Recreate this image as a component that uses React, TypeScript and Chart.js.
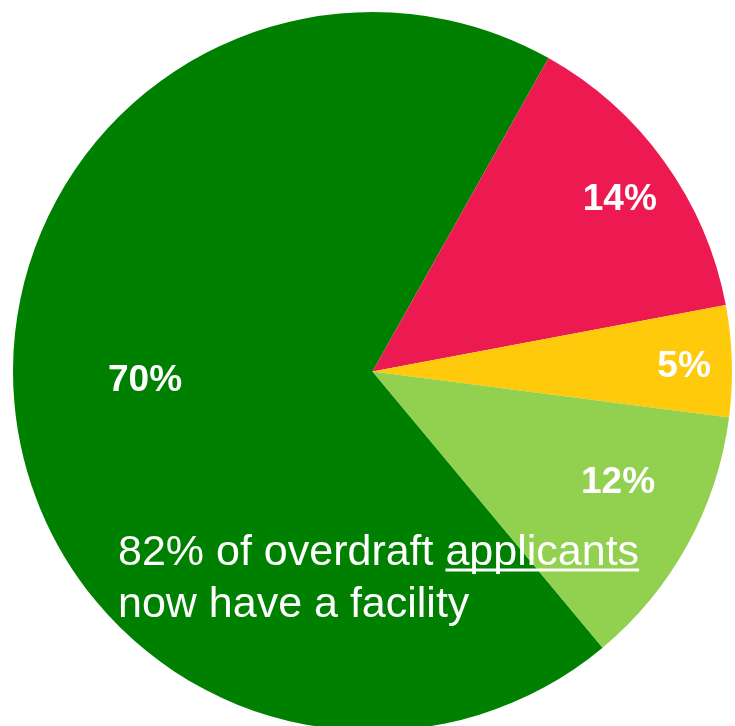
import React, { useEffect, useRef } from "react";
import { Chart, registerables } from "chart.js";

Chart.register(...registerables);

const categories = ["Has facility (applied)", "Declined", "Pending", "Other facility"];
const shares = [69.2, 13.9, 5.0, 11.9];
const shareLabels = ["70%", "14%", "5%", "12%"];
const sliceColors = ["#008000", "#EC1A51", "#FFC90C", "#92D050"];
const noteLine1 = "82% of overdraft ";
const noteUnderlined = "applicants";
const noteLine2 = "now have a facility";

// label placement: fraction of radius, angle offset in degrees
const labelPlacement = [
  { r: 0.633, da: 3.66 },
  { r: 0.843, da: 0.35 },
  { r: 0.867, da: 0.15 },
  { r: 0.747, da: -4.9 },
];

const labelPlugin = {
  id: "pieLabels",
  afterDatasetsDraw(chart: any) {
    const ctx = chart.ctx;
    const meta = chart.getDatasetMeta(0);
    ctx.save();
    ctx.fillStyle = "#ffffff";
    const size = 37;
    ctx.font = `bold ${size}px "Liberation Sans", Arial, sans-serif`;
    ctx.textAlign = "center";
    ctx.textBaseline = "alphabetic";
    meta.data.forEach((arc: any, i: number) => {
      const p = arc.getProps(["x", "y", "startAngle", "endAngle", "outerRadius"], true);
      const pl = labelPlacement[i];
      const a = (p.startAngle + p.endAngle) / 2 + (pl.da * Math.PI) / 180;
      const r = p.outerRadius * pl.r;
      const x = p.x + Math.cos(a) * r;
      const y = p.y + Math.sin(a) * r;
      ctx.fillText(shareLabels[i], x, y + size * 0.358);
    });

    // annotation
    const fs = 43;
    ctx.font = `${fs}px "Liberation Sans", Arial, sans-serif`;
    ctx.textAlign = "left";
    const x0 = 118;
    const y1 = 564.5;
    const y2 = 616.5;
    ctx.fillText(noteLine1, x0, y1);
    const w1 = ctx.measureText(noteLine1).width;
    ctx.fillText(noteUnderlined, x0 + w1, y1);
    const wu = ctx.measureText(noteUnderlined).width;
    ctx.fillRect(x0 + w1, y1 + 4, wu, 3);
    ctx.fillText(noteLine2, x0, y2);
    ctx.restore();
  },
};

export default function App() {
  const ref = useRef<HTMLCanvasElement>(null);
  useEffect(() => {
    document.body.style.margin = "0";
    const chart = new Chart(ref.current!, {
      type: "pie",
      data: {
        labels: categories,
        datasets: [
          {
            data: shares,
            backgroundColor: sliceColors,
            borderWidth: 0,
          },
        ],
      },
      options: {
        animation: false,
        responsive: false,
        devicePixelRatio: 1,
        rotation: 140.2,
        layout: { padding: { left: 13, right: 3, top: 12, bottom: 13 } },
        plugins: {
          legend: { display: false },
          tooltip: { enabled: false },
        },
      },
      plugins: [labelPlugin],
    });
    return () => chart.destroy();
  }, []);
  return (
    <div style={{ position: "fixed", left: 0, top: 0, width: 735, height: 726, overflow: "hidden", background: "#fff" }}>
      <canvas ref={ref} width={735} height={744} style={{ display: "block", width: 735, height: 744 }} />
    </div>
  );
}
